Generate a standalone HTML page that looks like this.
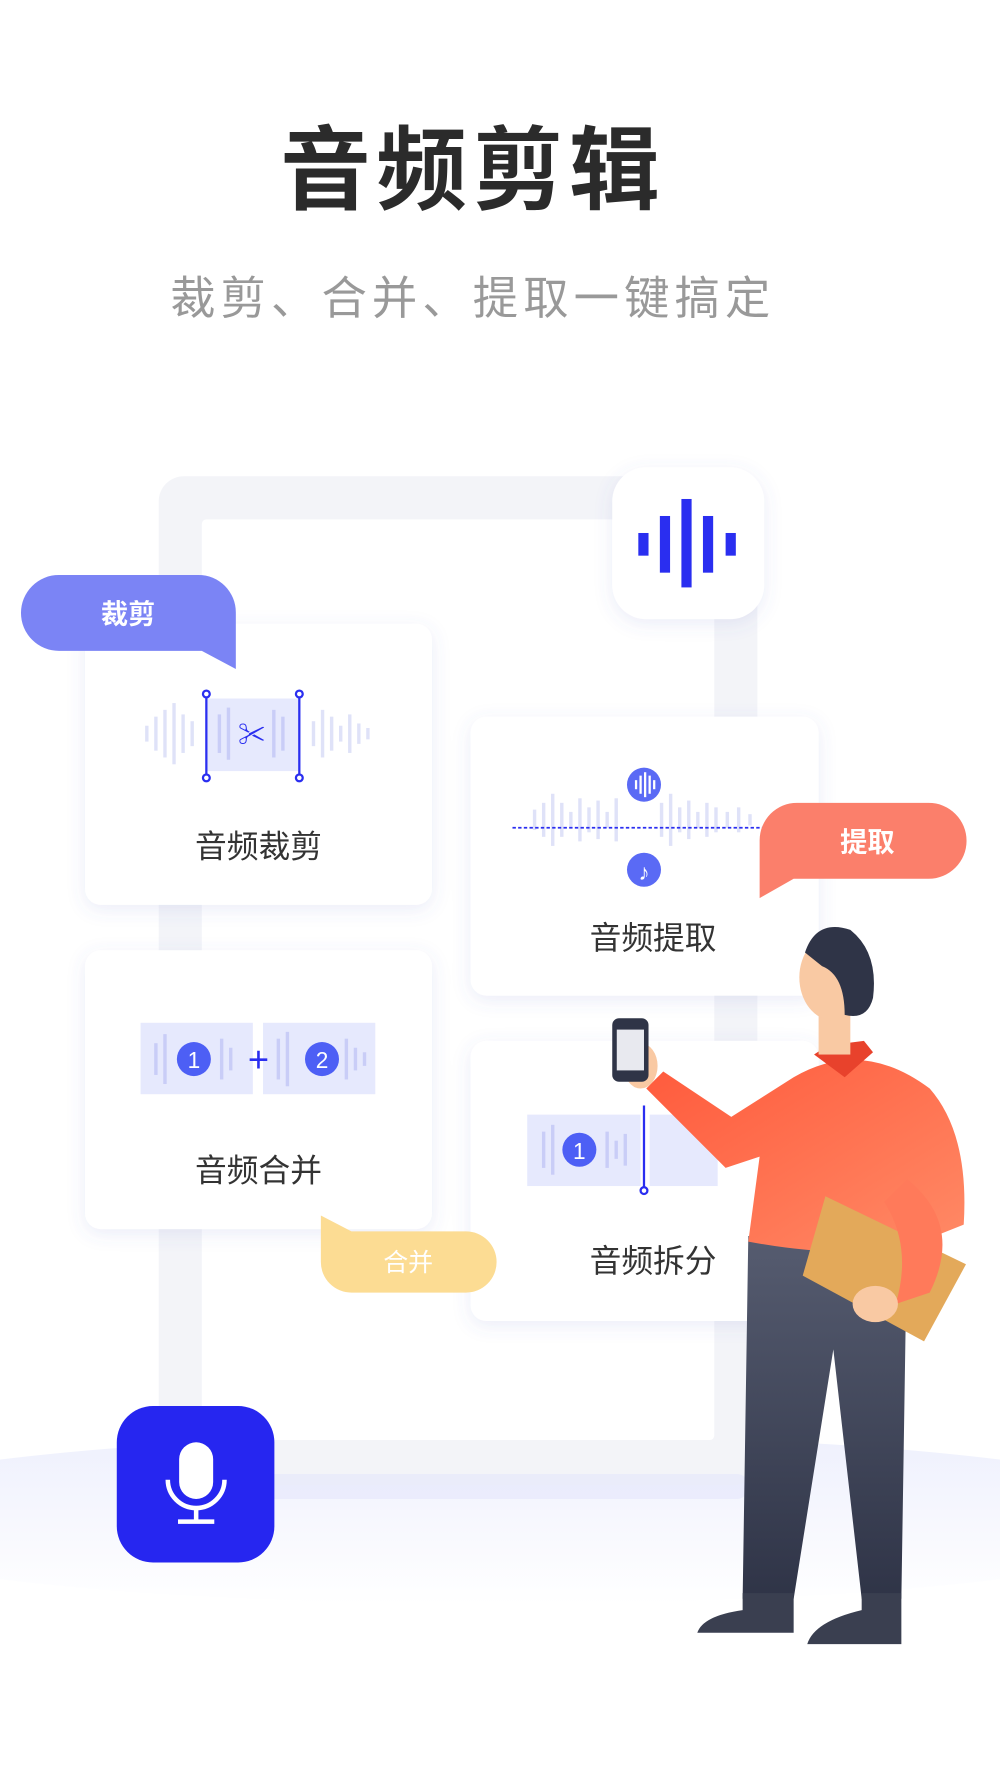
<!DOCTYPE html>
<html><head><meta charset="utf-8"><style>
html,body{margin:0;padding:0;background:#fff;}
svg{display:block;}
text{font-family:"Liberation Sans","Noto Sans CJK SC",sans-serif;}
</style></head><body>
<svg width="1000" height="1778" viewBox="0 0 882 1568" xmlns="http://www.w3.org/2000/svg">
<defs>
<filter id="sh" x="-20%" y="-20%" width="140%" height="140%"><feDropShadow dx="0" dy="4" stdDeviation="8" flood-color="#5a60c8" flood-opacity="0.12"/></filter>
<linearGradient id="grd" x1="0" y1="0" x2="0" y2="1"><stop offset="0" stop-color="#eef0fd"/><stop offset="1" stop-color="#ffffff"/></linearGradient>
<linearGradient id="shirt" x1="0" y1="0" x2="1" y2="1"><stop offset="0" stop-color="#ff5a3c"/><stop offset="1" stop-color="#ff8a66"/></linearGradient>
<linearGradient id="pants" x1="0" y1="0" x2="0" y2="1"><stop offset="0" stop-color="#565c70"/><stop offset="1" stop-color="#2f3447"/></linearGradient>
</defs>
<rect width="882" height="1568" fill="#fff"/>
<text x="417" y="178" font-size="80" font-weight="bold" fill="#2b2b2b" text-anchor="middle" letter-spacing="5">音频剪辑</text>
<text x="417" y="277" font-size="40" fill="#999" text-anchor="middle" letter-spacing="4.5">裁剪、合并、提取一键搞定</text>
<ellipse cx="441" cy="1340" rx="620" ry="75" fill="url(#grd)"/>
<rect x="140" y="420" width="528" height="890" rx="22" fill="#f3f4f8"/>
<rect x="178" y="458" width="452" height="812" rx="4" fill="#fff"/>
<rect x="150" y="1300" width="510" height="22" rx="10" fill="#e4e6fb" opacity="0.6"/>
<rect x="540" y="412" width="134" height="134" rx="30" fill="#fff" filter="url(#sh)"/>
<g fill="#2a2ef0"><rect x="563" y="470" width="9" height="20"/><rect x="582" y="455" width="9" height="50"/><rect x="601" y="440" width="9" height="78"/><rect x="620" y="455" width="9" height="50"/><rect x="640" y="470" width="9" height="20"/></g>
<g filter="url(#sh)" fill="#fff">
<rect x="75" y="550" width="306" height="248" rx="14"/>
<rect x="415" y="632" width="307" height="246" rx="14"/>
<rect x="75" y="838" width="306" height="246" rx="14"/>
<rect x="415" y="918" width="307" height="247" rx="14"/>
</g>
<g fill="#dfe2f8">
<rect x="128" y="640" width="3" height="14"/><rect x="136" y="632" width="3" height="30"/><rect x="144" y="626" width="3" height="42"/><rect x="152" y="620" width="3" height="54"/><rect x="160" y="630" width="3" height="34"/><rect x="168" y="636" width="3" height="22"/>
<rect x="275" y="636" width="3" height="22"/><rect x="283" y="626" width="3" height="42"/><rect x="291" y="632" width="3" height="30"/><rect x="299" y="640" width="3" height="14"/><rect x="307" y="630" width="3" height="34"/><rect x="315" y="638" width="3" height="18"/><rect x="323" y="642" width="3" height="10"/>
</g>
<rect x="182" y="616" width="82" height="64" fill="#e6e9fd"/>
<g fill="#c9cdf7"><rect x="192" y="630" width="3" height="34"/><rect x="200" y="624" width="3" height="46"/><rect x="240" y="626" width="3" height="42"/><rect x="248" y="632" width="3" height="30"/></g>
<g stroke="#2a2ef0" stroke-width="2" fill="#fff"><line x1="182" y1="612" x2="182" y2="686"/><line x1="264" y1="612" x2="264" y2="686"/><circle cx="182" cy="612" r="3"/><circle cx="182" cy="686" r="3"/><circle cx="264" cy="612" r="3"/><circle cx="264" cy="686" r="3"/></g>
<text x="222" y="656" font-size="24" fill="#2a2ef0" text-anchor="middle">✂</text>
<text x="228" y="756" font-size="28" fill="#333" text-anchor="middle">音频裁剪</text>
<g fill="#dfe2f8">
<rect x="470" y="714" width="3" height="18"/><rect x="478" y="708" width="3" height="30"/><rect x="486" y="700" width="3" height="46"/><rect x="494" y="708" width="3" height="30"/><rect x="502" y="716" width="3" height="14"/><rect x="510" y="704" width="3" height="38"/><rect x="518" y="712" width="3" height="22"/><rect x="526" y="706" width="3" height="34"/><rect x="534" y="716" width="3" height="14"/><rect x="542" y="704" width="3" height="38"/><rect x="582" y="708" width="3" height="30"/><rect x="590" y="700" width="3" height="46"/><rect x="598" y="712" width="3" height="22"/><rect x="606" y="706" width="3" height="34"/><rect x="614" y="716" width="3" height="14"/><rect x="622" y="708" width="3" height="30"/><rect x="630" y="712" width="3" height="22"/><rect x="640" y="716" width="3" height="14"/><rect x="650" y="712" width="3" height="22"/><rect x="660" y="718" width="3" height="10"/>
</g>
<line x1="452" y1="730" x2="675" y2="730" stroke="#2a2ef0" stroke-width="1.5" stroke-dasharray="3,2"/>
<circle cx="568" cy="692" r="15" fill="#5a6af5"/>
<g fill="#fff"><rect x="560" y="688" width="2" height="8"/><rect x="564" y="684" width="2" height="16"/><rect x="568" y="681" width="2" height="22"/><rect x="572" y="684" width="2" height="16"/><rect x="576" y="688" width="2" height="8"/></g>
<circle cx="568" cy="767" r="15" fill="#5a6af5"/>
<text x="568" y="776" font-size="20" fill="#fff" text-anchor="middle">♪</text>
<text x="576" y="837" font-size="28" fill="#333" text-anchor="middle">音频提取</text>
<rect x="124" y="902" width="99" height="63" fill="#e6e9fd"/><rect x="232" y="902" width="99" height="63" fill="#e6e9fd"/>
<g fill="#c9cdf7"><rect x="136" y="920" width="3" height="28"/><rect x="144" y="912" width="3" height="44"/><rect x="194" y="916" width="3" height="36"/><rect x="202" y="924" width="3" height="20"/><rect x="244" y="916" width="3" height="36"/><rect x="252" y="910" width="3" height="48"/><rect x="304" y="916" width="3" height="36"/><rect x="312" y="924" width="3" height="20"/><rect x="320" y="928" width="3" height="12"/></g>
<circle cx="171" cy="934" r="15" fill="#4d5ff5"/><text x="171" y="942" font-size="20" fill="#fff" text-anchor="middle">1</text>
<circle cx="284" cy="934" r="15" fill="#4d5ff5"/><text x="284" y="942" font-size="20" fill="#fff" text-anchor="middle">2</text>
<text x="228" y="945" font-size="32" fill="#2a2ef0" text-anchor="middle">+</text>
<text x="228" y="1042" font-size="28" fill="#333" text-anchor="middle">音频合并</text>
<rect x="465" y="983" width="100" height="63" fill="#e6e9fd"/><rect x="573" y="983" width="60" height="63" fill="#e6e9fd"/>
<g fill="#c9cdf7"><rect x="478" y="998" width="3" height="32"/><rect x="486" y="992" width="3" height="44"/><rect x="534" y="998" width="3" height="32"/><rect x="542" y="1006" width="3" height="16"/><rect x="550" y="1000" width="3" height="28"/></g>
<circle cx="511" cy="1014" r="15" fill="#4d5ff5"/><text x="511" y="1022" font-size="20" fill="#fff" text-anchor="middle">1</text>
<line x1="568" y1="975" x2="568" y2="1050" stroke="#2a2ef0" stroke-width="2"/><circle cx="568" cy="1050" r="3" fill="#fff" stroke="#2a2ef0" stroke-width="2"/>
<text x="576" y="1122" font-size="28" fill="#333" text-anchor="middle">音频拆分</text>
<path d="M52 507 H175 A33 33 0 0 1 208 540 V590 L178 574 H52 A33 33 0 0 1 52 507Z" fill="#7b84f5"/>
<text x="113" y="550" font-size="24" font-weight="bold" fill="#fff" text-anchor="middle">裁剪</text>
<path d="M703 708 H819 A33 33 0 0 1 819 775 H700 L670 792 V741 A33 33 0 0 1 703 708Z" fill="#fb7f6b"/>
<text x="765" y="751" font-size="24" font-weight="bold" fill="#fff" text-anchor="middle">提取</text>
<path d="M283 1072 L310 1086 H411 A27 27 0 0 1 411 1140 H310 A27 27 0 0 1 283 1113Z" fill="#fcdc93"/>
<text x="360" y="1121" font-size="22" fill="#fff" text-anchor="middle">合并</text>
<rect x="103" y="1240" width="139" height="138" rx="32" fill="#2626f0"/>
<rect x="158" y="1272" width="30" height="50" rx="15" fill="#fff"/>
<path d="M148 1305 A25 25 0 0 0 198 1305" stroke="#fff" stroke-width="4" fill="none"/>
<line x1="173" y1="1330" x2="173" y2="1342" stroke="#fff" stroke-width="4"/><line x1="157" y1="1342" x2="189" y2="1342" stroke="#fff" stroke-width="4"/>
<path d="M660 1090 L800 1090 L795 1410 L760 1410 L735 1190 L700 1410 L655 1410Z" fill="url(#pants)"/>
<path d="M655 1405 H700 V1440 H615 Q620 1425 655 1420Z" fill="#3a3f50"/>
<path d="M760 1405 H795 V1450 H712 Q718 1430 760 1420Z" fill="#3a3f50"/>
<path d="M700 950 Q760 915 820 960 Q855 1000 850 1080 L800 1100 Q740 1110 660 1095 L670 1020 L640 1030 L570 960 L585 945 L645 985 Z" fill="url(#shirt)"/>
<path d="M718 930 L745 950 L770 928 L762 918 L730 922Z" fill="#e8422c"/>
<rect x="722" y="880" width="28" height="50" fill="#f9c9a3"/>
<ellipse cx="735" cy="862" rx="30" ry="38" fill="#f9c9a3"/>
<path d="M710 840 Q720 810 750 820 Q775 840 770 880 Q765 900 745 895 Q745 860 725 852 Z" fill="#2f3447"/>
<ellipse cx="565" cy="940" rx="15" ry="20" fill="#f9c9a3"/>
<rect x="540" y="898" width="32" height="56" rx="6" fill="#2f3447"/><rect x="544" y="908" width="24" height="36" fill="#e8e9ef"/>
<path d="M728 1055 L852 1115 L815 1183 L708 1125Z" fill="#e3a95a"/>
<path d="M800 1040 Q850 1080 820 1140 L790 1150 Q805 1100 780 1060Z" fill="#ff7a5a"/>
<ellipse cx="772" cy="1150" rx="20" ry="16" fill="#f9c9a3"/>
</svg>
</body></html>
